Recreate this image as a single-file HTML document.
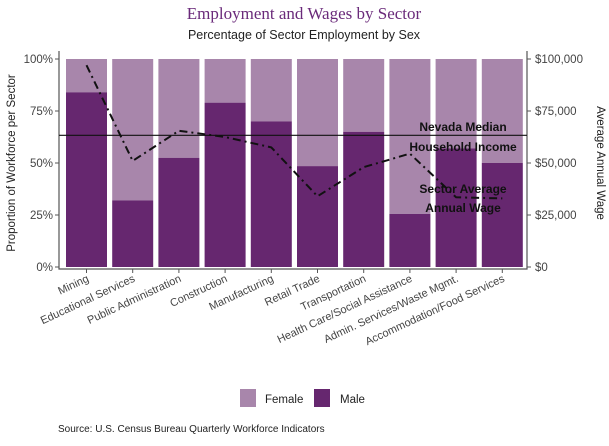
<!DOCTYPE html>
<html><head><meta charset="utf-8"><style>
body{margin:0;background:#fff;}
svg text{font-family:"Liberation Sans",sans-serif;}
</style></head><body>
<svg id="chart" width="609" height="441" xmlns="http://www.w3.org/2000/svg">
<text x="304" y="19" text-anchor="middle" font-size="17" fill="#6a2a7a" style="font-family:'Liberation Serif',serif">Employment and Wages by Sector</text>
<text x="304" y="39" text-anchor="middle" font-size="12.5" fill="#222">Percentage of Sector Employment by Sex</text>
<g id="plot"></g>
<text transform="translate(15,163) rotate(-90)" text-anchor="middle" font-size="11.5" fill="#222">Proportion of Workforce per Sector</text>
<text transform="translate(597,163) rotate(90)" text-anchor="middle" font-size="11.5" fill="#222">Average Annual Wage</text>
<g>
<rect x="240" y="389" width="16" height="18" fill="#a886ab"/>
<text x="265" y="403" font-size="11.5" fill="#222">Female</text>
<rect x="314" y="389" width="16" height="18" fill="#66276f"/>
<text x="340" y="403" font-size="11.5" fill="#222">Male</text>
</g>
<text x="58" y="432" font-size="10" fill="#222">Source: U.S. Census Bureau Quarterly Workforce Indicators</text>
</svg>
<script>
const categories=["Mining","Educational Services","Public Administration","Construction","Manufacturing","Retail Trade","Transportation","Health Care/Social Assistance","Admin. Services/Waste Mgmt.","Accommodation/Food Services"];
const maleShare=[84,32,52.5,79,70,48.5,65,25.5,57,50];
const avgWage=[97000,51000,65500,62500,57500,34000,48000,54500,33500,33000];
const medianIncome=63300;
const leftTicks=[0,25,50,75,100];
const rightTicks=[0,25000,50000,75000,100000];
const NS="http://www.w3.org/2000/svg";
const g=document.getElementById('plot');
const L=59,R=527,T=59,B=267;
const x=i=>86.5+i*46.2;
const yP=v=>B-(v/100)*(B-T);
const yW=v=>B-(v/100000)*(B-T);
function mk(t,a,p){const e=document.createElementNS(NS,t);for(const k in a)e.setAttribute(k,a[k]);(p||g).appendChild(e);return e;}
const bw=41;
categories.forEach((c,i)=>{
 let f=mk('rect',{x:x(i)-bw/2,y:yP(100),width:bw,height:yP(maleShare[i])-yP(100),fill:'#a886ab'});
 
 
 let m=mk('rect',{x:x(i)-bw/2,y:yP(maleShare[i]),width:bw,height:B-yP(maleShare[i]),fill:'#66276f'});
 
 
 let tk=mk('line',{x1:x(i),x2:x(i),y1:B+2,y2:B+6,stroke:'#555'});
 
 
 let t=mk('text',{transform:`translate(${x(i)+3},${B+14}) rotate(-25)`,'text-anchor':'end','font-size':'11',fill:'#444'});
 t.textContent=c;
 
 
});
let ax=mk('path',{d:`M${L},${T-8}V${B+2}H${R}V${T-8}`,fill:'none',stroke:'#555','stroke-width':1.2});


leftTicks.forEach(v=>{
 mk('line',{x1:L-4,x2:L,y1:yP(v),y2:yP(v),stroke:'#555'});
 let t=mk('text',{x:L-6,y:yP(v)+4,'text-anchor':'end','font-size':'11.5',fill:'#444'});t.textContent=v+'%';
 
 
});
rightTicks.forEach(v=>{
 mk('line',{x1:R,x2:R+4,y1:yW(v),y2:yW(v),stroke:'#555'});
 let t=mk('text',{x:R+8,y:yW(v)+4,'font-size':'11.5',fill:'#444'});t.textContent='$'+v.toLocaleString('en-US');
 
 
});
let ml=mk('line',{x1:L,x2:R,y1:yW(medianIncome),y2:yW(medianIncome),stroke:'#111','stroke-width':1.2});


let wl=mk('polyline',{points:avgWage.map((v,i)=>x(i)+','+yW(v)).join(' '),fill:'none',stroke:'#111','stroke-width':2,'stroke-dasharray':'8,4,2,4'});


[["Nevada Median",131],["Household Income",151],["Sector Average",193],["Annual Wage",212]].forEach(([s,yy])=>{
 let t=mk('text',{x:463,y:yy,'text-anchor':'middle','font-size':'12','font-weight':'bold',fill:'#111'});t.textContent=s;
 
 
});
</script>
</body></html>
